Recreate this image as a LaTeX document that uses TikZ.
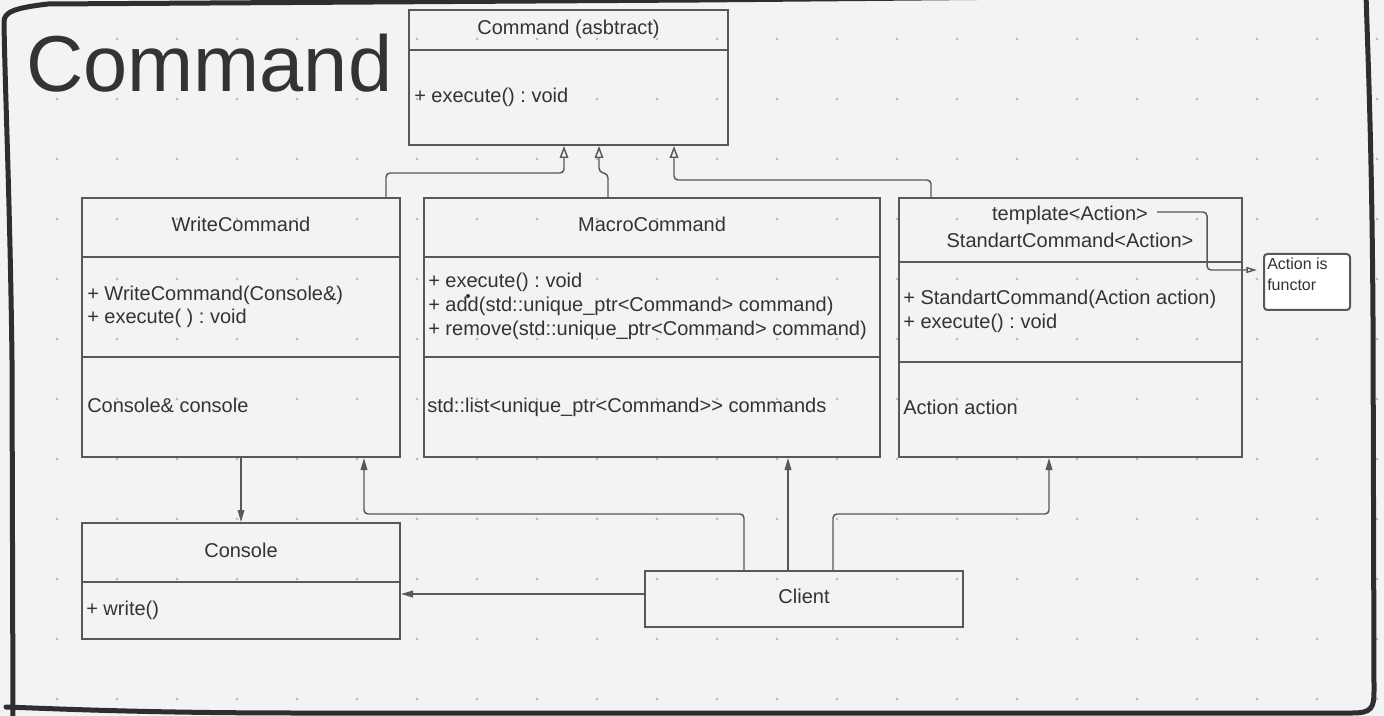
\documentclass[tikz,border=0pt]{standalone}
\usepackage{fontspec}
\setmainfont{Liberation Sans}
\usetikzlibrary{arrows.meta,fit}
\definecolor{bgc}{HTML}{F2F3F5}
\definecolor{dotc}{HTML}{B4B6BA}
\definecolor{linec}{HTML}{585858}
\definecolor{txtc}{HTML}{333333}
\definecolor{brd}{HTML}{2E2E2E}
\frenchspacing
\begin{document}
\begin{tikzpicture}[x=0.75pt,y=-0.75pt,
 ubox/.style={draw=linec, line width=1.5pt, inner sep=0pt},
 divl/.style={draw=linec, line width=1.5pt},
 txt/.style={anchor=base west, inner sep=0pt, text=txtc, font=\fontsize{15}{18}\selectfont},
 ctxt/.style={txt, anchor=base},
 notetxt/.style={anchor=base west, inner sep=0pt, text=txtc, font=\fontsize{12}{15}\selectfont},
 inh/.style={draw=linec, line width=1.1pt, rounded corners=3pt, -{Triangle[open, length=9pt, width=6.5pt, fill=bgc]}},
 assoc/.style={draw=linec, line width=1.1pt, rounded corners=3pt, -{Triangle[length=9pt, width=5pt]}},
 notearr/.style={draw=linec, line width=1.1pt, rounded corners=3pt, -{Triangle[open, length=8pt, width=4.5pt, fill=bgc]}, shorten >=4.5pt},
 border/.style={draw=brd, line width=3.75pt, line cap=round, line join=round}
]
% background
\fill[bgc] (0,0) rectangle (1384,716);
\useasboundingbox (0,0) rectangle (1384,716);
% dot grid
\foreach \i in {0,...,22}{
  \foreach \j in {0,...,11}{
    \fill[dotc] ({57+60*\i},{39+60*\j}) circle (1.1pt);
  }
}
% title
\node[anchor=base west, inner sep=0pt, text=txtc, font=\fontsize{59.5}{61}\selectfont] (title) at (26,92) {Command};

% Command (abstract)
\node[ubox, fit={(409,10) (728,145)}] (cmd) {};
\draw[divl] (cmd.west |- 0,50) -- (cmd.east |- 0,50);
\node[ctxt] (cmdt) at (568.5,35) {Command (asbtract)};
\node[txt] (cmdm) at (414,103) {+ execute() : void};

% WriteCommand
\node[ubox, fit={(82,198) (400,457)}] (wc) {};
\draw[divl] (wc.west |- 0,257) -- (wc.east |- 0,257);
\draw[divl] (wc.west |- 0,357) -- (wc.east |- 0,357);
\node[ctxt] (wct) at (241,232) {WriteCommand};
\node[txt] (wcm1) at (87,301) {+ WriteCommand(Console\&)};
\node[txt] (wcm2) at (87,324) {+ execute( ) : void};
\node[txt] (wca) at (87,412) {Console\& console};

% MacroCommand
\node[ubox, fit={(424,198) (880,457)}] (mc) {};
\draw[divl] (mc.west |- 0,257) -- (mc.east |- 0,257);
\draw[divl] (mc.west |- 0,357) -- (mc.east |- 0,357);
\node[ctxt] (mct) at (652,232) {MacroCommand};
\node[txt] (mcm1) at (428,288) {+ execute() : void};
\node[txt] (mcm2) at (428,312) {+ add(std::unique\_ptr<Command> command)};
\node[txt] (mcm3) at (428,336) {+ remove(std::unique\_ptr<Command> command)};
\node[txt] (mca) at (427,412) {std::list<unique\_ptr<Command>{}> commands};
\fill[txtc] (468,296) circle (1.5pt);

% StandartCommand
\node[ubox, fit={(899,198) (1242,457)}] (sc) {};
\draw[divl] (sc.west |- 0,262) -- (sc.east |- 0,262);
\draw[divl] (sc.west |- 0,362) -- (sc.east |- 0,362);
\node[ctxt] (sct1) at (1070,221) {template<Action>};
\node[ctxt] (sct2) at (1070,248) {StandartCommand<Action>};
\node[txt] (scm1) at (903,305) {+ StandartCommand(Action action)};
\node[txt] (scm2) at (903,329) {+ execute() : void};
\node[txt] (sca) at (903,414) {Action action};

% note
\node[ubox, fill=white, rounded corners=2.5pt, fit={(1264,254) (1350,310)}] (note) {};
\node[notetxt] (nt1) at (1267,270) {Action is};
\node[notetxt] (nt2) at (1267,291) {functor};

% Console
\node[ubox, fit={(82,523) (400,639)}] (con) {};
\draw[divl] (con.west |- 0,582) -- (con.east |- 0,582);
\node[ctxt] (cont) at (241,557) {Console};
\node[txt] (conm) at (86,615) {+ write()};

% Client
\node[ubox, fit={(645,571) (963,627)}] (cl) {};
\node[ctxt] (clt) at (804,603) {Client};

% inheritance connectors
\draw[inh] (386,0 |- wc.north) -- (386,173) -- (564,173) -- (564,0 |- cmd.south);
\draw[inh] (608,0 |- mc.north) -- (608,174) -- (599,172) -- (599,0 |- cmd.south);
\draw[inh] (931,0 |- sc.north) -- (931,180) -- (674,180) -- (674,0 |- cmd.south);

% note connector
\coordinate (tstart) at (1157,212);
\draw[notearr] (tstart) -- (1207,212) -- (1207,270) -- (note.west |- 0,270);

% associations
\draw[assoc] (241,0 |- wc.south) -- (241,0 |- con.north);
\draw[assoc] (744,0 |- cl.north) -- (744,514) -- (364,514) -- (364,0 |- wc.south);
\draw[assoc] (788,0 |- cl.north) -- (788,0 |- mc.south);
\draw[assoc] (833,0 |- cl.north) -- (833,514) -- (1049,514) -- (1049,0 |- sc.south);
\draw[assoc] (cl.west |- 0,594) -- (con.east |- 0,594);

% hand-drawn border
\draw[border] (1366,-6) .. controls (1368,60) and (1372,150) .. (1373,320) -- (1374,690) .. controls (1374,708) and (1372,713) .. (1352,713) -- (300,713) .. controls (150,713) and (60,709) .. (6,707);
\draw[border] (13,725) -- (12,360) .. controls (10,200) and (5,90) .. (4,22) .. controls (4,12) and (14,8) .. (48,4) -- (700,0) -- (1366,-6);
\end{tikzpicture}
\end{document}
